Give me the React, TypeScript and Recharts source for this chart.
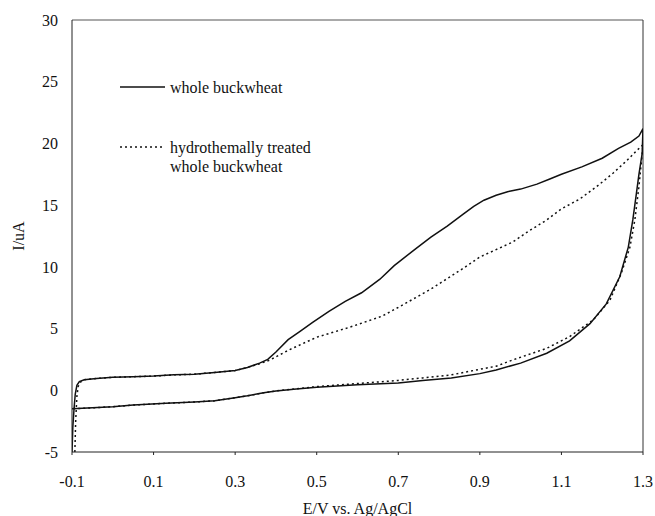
import { LineChart, Line, XAxis, YAxis, ReferenceLine, Legend, Label } from 'recharts';

// cyclic voltammograms, [E (V vs Ag/AgCl), I (uA)]
const wholeAnodic: [number, number][] = [
  [-0.1, -5.0], [-0.098, -3], [-0.095, -1.5], [-0.092, -0.3], [-0.088, 0.4], [-0.082, 0.7],
  [-0.07, 0.85], [-0.04, 0.95], [0.0, 1.05], [0.05, 1.1], [0.1, 1.15], [0.15, 1.25], [0.2, 1.3],
  [0.25, 1.45], [0.3, 1.6], [0.33, 1.85], [0.36, 2.2], [0.38, 2.5], [0.4, 3.1], [0.43, 4.1],
  [0.46, 4.8], [0.49, 5.5], [0.53, 6.4], [0.57, 7.2], [0.61, 7.9], [0.655, 9.0], [0.69, 10.1],
  [0.74, 11.4], [0.78, 12.4], [0.82, 13.3], [0.86, 14.3], [0.885, 14.9], [0.91, 15.4],
  [0.94, 15.8], [0.97, 16.1], [1.0, 16.3], [1.04, 16.7], [1.07, 17.1], [1.1, 17.5],
  [1.15, 18.1], [1.2, 18.8], [1.24, 19.6], [1.27, 20.1], [1.29, 20.6], [1.3, 21.2],
];

const wholeCathodic: [number, number][] = [
  [1.298, 19.2], [1.29, 17.5], [1.284, 16.0], [1.275, 13.8], [1.264, 11.6], [1.243, 9.2],
  [1.21, 7.0], [1.17, 5.4], [1.12, 4.0], [1.064, 3.0], [1.0, 2.2], [0.94, 1.65], [0.9, 1.35],
  [0.83, 1.0], [0.76, 0.8], [0.7, 0.6], [0.6, 0.45], [0.5, 0.25], [0.45, 0.1], [0.4, -0.05],
  [0.37, -0.2], [0.33, -0.45], [0.3, -0.6], [0.25, -0.85], [0.2, -0.95], [0.13, -1.05],
  [0.05, -1.2], [0.0, -1.33], [-0.05, -1.42], [-0.1, -1.5],
];

const treatedAnodic: [number, number][] = [
  [-0.093, -5.0], [-0.091, -2.5], [-0.088, -0.5], [-0.085, 0.3], [-0.08, 0.65], [-0.07, 0.85],
  [-0.04, 0.95], [0.0, 1.05], [0.05, 1.1], [0.1, 1.15], [0.15, 1.25], [0.2, 1.3], [0.25, 1.45],
  [0.3, 1.6], [0.33, 1.85], [0.36, 2.15], [0.385, 2.45], [0.434, 3.3], [0.5, 4.3], [0.58, 5.1],
  [0.66, 6.0], [0.71, 6.9], [0.78, 8.2], [0.86, 9.9], [0.9, 10.8], [0.94, 11.4], [0.98, 12.0],
  [1.02, 12.9], [1.064, 13.8], [1.1, 14.7], [1.145, 15.5], [1.19, 16.6], [1.227, 17.6],
  [1.26, 18.6], [1.284, 19.4], [1.3, 19.9],
];

const treatedCathodic: [number, number][] = [
  [1.296, 18.5], [1.29, 16.5], [1.28, 13.8], [1.268, 11.6], [1.247, 9.5], [1.219, 7.3],
  [1.178, 5.7], [1.12, 4.35], [1.064, 3.4], [0.98, 2.45], [0.94, 1.95], [0.9, 1.7],
  [0.83, 1.25], [0.76, 1.0], [0.7, 0.8], [0.6, 0.55], [0.5, 0.3], [0.45, 0.12], [0.4, -0.05],
  [0.37, -0.2], [0.33, -0.45], [0.3, -0.6], [0.25, -0.85], [0.2, -0.95], [0.13, -1.05],
  [0.05, -1.2], [0.0, -1.33], [-0.05, -1.42], [-0.1, -1.5],
];

const xTicks = [-0.1, 0.1, 0.3, 0.5, 0.7, 0.9, 1.1, 1.3];
const yTicks = [-5, 0, 5, 10, 15, 20, 25, 30];

const toPoints = (pts: [number, number][]) => pts.map(([e, i]) => ({ e, i }));
const whole = toPoints([...wholeAnodic, ...wholeCathodic]);
const treated = toPoints([...treatedAnodic, ...treatedCathodic]);

const font = 'Liberation Serif, Times New Roman, serif';
const tickStyle = { fill: '#111', fontSize: 16, fontFamily: font };

function CvLegend() {
  return (
    <svg width={240} height={110} style={{ display: 'block' }}>
      <line x1={10} x2={55} y1={17} y2={17} stroke="#111" strokeWidth={1.5} />
      <text x={60} y={17} dy="0.35em" fontSize={16} fontFamily={font} fill="#111">
        whole buckwheat
      </text>
      <line x1={10} x2={55} y1={77} y2={77} stroke="#111" strokeWidth={1.5} strokeDasharray="2 3" />
      <text x={60} y={77} dy="0.35em" fontSize={16} fontFamily={font} fill="#111">
        hydrothemally treated
      </text>
      <text x={60} y={96} dy="0.35em" fontSize={16} fontFamily={font} fill="#111">
        whole buckwheat
      </text>
    </svg>
  );
}

export default function App() {
  return (
    <div style={{ position: 'absolute', left: 0, top: 0, background: '#fff' }}>
      <LineChart width={655} height={516} margin={{ top: 20, right: 12, bottom: 24, left: 0 }}>
        <XAxis
          type="number"
          dataKey="e"
          domain={[-0.1, 1.3]}
          ticks={xTicks}
          allowDataOverflow
          tick={tickStyle}
          tickSize={3}
          tickMargin={21}
          height={40}
          stroke="#222"
          tickFormatter={(v: number) => String(v)}
        >
          <Label
            content={({ viewBox }: any) => (
              <text
                x={viewBox.x + viewBox.width / 2}
                y={508}
                dy="0.35em"
                textAnchor="middle"
                fontSize={16}
                fontFamily={font}
                fill="#111"
              >
                E/V vs. Ag/AgCl
              </text>
            )}
          />
        </XAxis>
        <YAxis
          type="number"
          dataKey="i"
          domain={[-5, 30]}
          ticks={yTicks}
          allowDataOverflow
          width={72}
          tick={tickStyle}
          tickLine={false}
          tickSize={6}
          tickMargin={8}
          stroke="#222"
        >
          <Label
            content={({ viewBox }: any) => (
              <text
                x={18}
                y={viewBox.y + viewBox.height / 2}
                dy="0.35em"
                textAnchor="middle"
                fontSize={16}
                fontFamily={font}
                fill="#111"
                transform={`rotate(-90, 18, ${viewBox.y + viewBox.height / 2})`}
              >
                I/uA
              </text>
            )}
          />
        </YAxis>
        <ReferenceLine y={30} stroke="#555" />
        <ReferenceLine x={1.3} stroke="#333" />
        <Line
          data={whole}
          dataKey="i"
          type="linear"
          stroke="#111"
          strokeWidth={1.5}
          dot={false}
          isAnimationActive={false}
          name="whole buckwheat"
        />
        <Line
          data={treated}
          dataKey="i"
          type="linear"
          stroke="#111"
          strokeWidth={1.5}
          strokeDasharray="2 3"
          dot={false}
          isAnimationActive={false}
          name="hydrothemally treated whole buckwheat"
        />
        <Legend
          layout="horizontal"
          verticalAlign="middle"
          align="center"
          wrapperStyle={{ left: 110, top: 70, width: 240, height: 110 }}
          content={() => <CvLegend />}
        />
      </LineChart>
    </div>
  );
}
